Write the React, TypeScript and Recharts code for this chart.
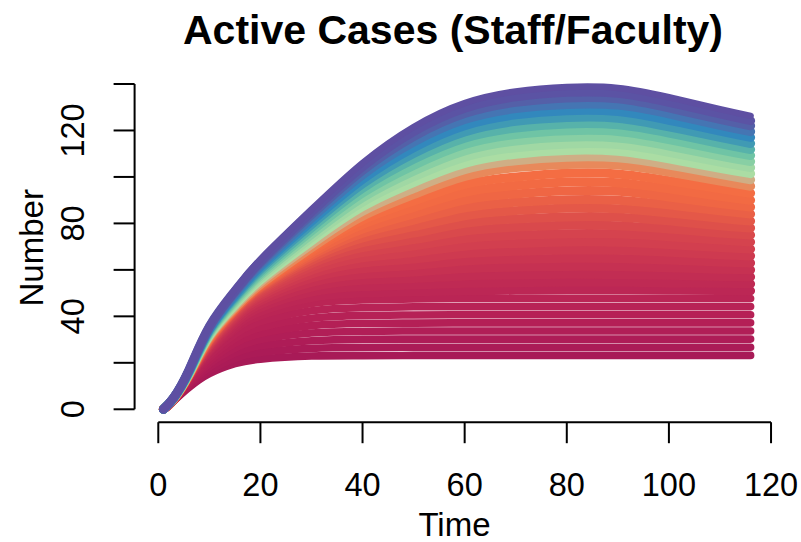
import React from 'react';
import { LineChart, Line, XAxis, YAxis, ReferenceLine } from 'recharts';

// ---------- data ----------
const times = [1, 3, 6, 10, 15, 20, 30, 40, 50, 60, 70, 80, 90, 100, 110, 116];

// lines that level off early (bottom of the fan)
const lowerSeries = [
  [0, 3.6, 9.3, 15.3, 19.6, 21.6, 22.9, 23.1, 23.2, 23.2, 23.2, 23.2, 23.2, 23.2, 23.2, 23.2],
  [0, 3.6, 10.0, 16.8, 21.9, 24.5, 26.2, 26.6, 26.7, 26.7, 26.7, 26.7, 26.7, 26.7, 26.7, 26.7],
  [0, 3.7, 10.6, 18.2, 24.2, 27.3, 29.5, 30.1, 30.2, 30.2, 30.2, 30.2, 30.2, 30.2, 30.2, 30.2],
  [0, 3.7, 11.2, 19.6, 26.3, 30.0, 32.8, 33.5, 33.7, 33.7, 33.7, 33.7, 33.7, 33.7, 33.7, 33.7],
  [0, 3.8, 11.8, 20.8, 28.4, 32.6, 36.0, 36.9, 37.1, 37.2, 37.2, 37.2, 37.2, 37.2, 37.2, 37.2],
  [0, 3.8, 12.3, 22.1, 30.4, 35.2, 39.2, 40.3, 40.6, 40.7, 40.7, 40.7, 40.7, 40.7, 40.7, 40.7],
  [0, 3.8, 12.8, 23.2, 32.3, 37.7, 42.4, 43.7, 44.1, 44.2, 44.2, 44.2, 44.2, 44.2, 44.2, 44.2],
  [0, 3.9, 13.3, 24.3, 34.2, 40.2, 45.5, 47.1, 47.5, 47.7, 47.7, 47.7, 47.7, 47.7, 47.7, 47.7],
];

// red / orange lines in the middle of the fan
const middleSeries = [
  [0, 3.9, 13.6, 25.1, 35.6, 42.2, 48.1, 50.0, 50.6, 51.0, 51.2, 51.3, 51.3, 51.2, 51.1, 51.0],
  [0, 4.0, 13.8, 25.7, 36.8, 43.8, 50.4, 52.8, 53.5, 54.2, 54.5, 54.7, 54.7, 54.4, 54.2, 54.0],
  [0, 4.0, 13.9, 26.4, 37.8, 45.2, 52.6, 55.5, 56.3, 57.4, 57.8, 58.1, 58.0, 57.7, 57.2, 57.0],
  [0, 4.0, 14.1, 27.0, 38.8, 46.6, 54.6, 58.0, 59.1, 60.6, 61.2, 61.5, 61.4, 60.9, 60.3, 60.0],
  [0, 4.1, 14.2, 27.5, 39.6, 47.7, 56.5, 60.5, 61.9, 63.8, 64.6, 65.0, 64.9, 64.2, 63.4, 63.0],
  [0, 4.1, 14.3, 28.0, 40.3, 48.8, 58.2, 62.9, 64.7, 67.0, 68.0, 68.5, 68.4, 67.6, 66.5, 66.0],
  [0, 4.2, 14.4, 28.3, 41.0, 49.7, 59.8, 65.2, 67.5, 70.2, 71.4, 72.0, 71.9, 70.9, 69.6, 69.0],
  [0, 4.2, 14.5, 28.8, 41.3, 50.4, 61.3, 67.4, 70.3, 73.5, 74.9, 75.6, 75.5, 74.3, 72.8, 72.0],
  [0, 4.2, 14.5, 29.1, 41.8, 51.1, 62.7, 69.6, 73.0, 76.7, 78.4, 79.2, 79.0, 77.6, 75.9, 75.0],
  [0, 4.3, 14.6, 29.4, 42.3, 51.8, 64.0, 71.7, 75.8, 80.0, 81.9, 82.8, 82.7, 81.1, 79.0, 78.0],
  [0, 4.3, 14.6, 29.6, 42.6, 52.3, 65.1, 73.8, 78.6, 83.3, 85.5, 86.5, 86.3, 84.5, 82.2, 81.0],
  [0, 4.4, 14.7, 29.9, 42.8, 52.7, 66.2, 75.8, 81.4, 86.7, 89.1, 90.2, 90.0, 88.0, 85.4, 84.0],
  [0, 4.4, 14.7, 30.2, 43.1, 53.1, 67.1, 77.6, 84.1, 90.0, 92.7, 94.0, 93.8, 91.4, 88.5, 87.0],
  [0, 4.4, 14.7, 30.4, 43.3, 53.4, 68.1, 79.6, 86.9, 93.4, 96.3, 97.8, 97.5, 94.9, 91.7, 90.0],
  [0, 4.5, 14.7, 30.6, 43.5, 53.6, 68.8, 81.4, 89.6, 96.8, 100.0, 101.6, 101.3, 98.4, 94.9, 93.0],
];

// green / blue / purple lines at the top of the fan
const upperSeries = [
  [0, 4.5, 14.8, 30.8, 43.5, 53.7, 69.5, 83.1, 92.4, 100.2, 104.0, 105.4, 105.1, 102.1, 98.2, 96.0],
  [0, 4.6, 15.0, 31.3, 44.2, 54.7, 71.0, 85.2, 95.0, 103.1, 107.0, 108.5, 108.2, 105.1, 101.1, 98.8],
  [0, 4.6, 15.2, 31.7, 44.9, 55.6, 72.4, 87.2, 97.6, 105.8, 109.8, 111.4, 111.0, 107.8, 103.7, 101.4],
  [0, 4.6, 15.4, 32.2, 45.6, 56.5, 73.9, 89.2, 100.0, 108.5, 112.6, 114.2, 113.9, 110.6, 106.4, 104.0],
  [0, 4.7, 15.5, 32.6, 46.3, 57.5, 75.3, 91.1, 102.5, 111.2, 115.5, 117.1, 116.7, 113.3, 109.0, 106.6],
  [0, 4.7, 15.7, 33.1, 47.0, 58.4, 76.7, 93.1, 105.0, 114.0, 118.3, 119.9, 119.6, 116.1, 111.7, 109.2],
  [0, 4.8, 15.9, 33.5, 47.7, 59.3, 78.1, 95.1, 107.6, 116.7, 121.1, 122.8, 122.4, 118.9, 114.4, 111.8],
  [0, 4.8, 16.1, 34.0, 48.3, 60.3, 79.5, 97.0, 110.1, 119.4, 123.9, 125.6, 125.3, 121.6, 117.0, 114.4],
  [0, 4.8, 16.3, 34.4, 49.0, 61.2, 80.9, 99.0, 112.6, 122.1, 126.7, 128.5, 128.1, 124.4, 119.7, 117.0],
  [0, 4.9, 16.5, 34.8, 49.7, 62.1, 82.3, 100.9, 115.0, 124.7, 129.4, 131.2, 130.9, 127.1, 122.2, 119.5],
  [0, 4.9, 16.7, 35.3, 50.4, 63.0, 83.7, 102.8, 117.4, 127.3, 132.1, 134.0, 133.6, 129.7, 124.8, 122.0],
  [0, 5.0, 16.9, 35.6, 50.9, 63.7, 84.9, 104.4, 119.5, 129.6, 134.5, 136.4, 136.0, 132.1, 127.1, 124.2],
  [0, 5.0, 17.0, 36.0, 51.5, 64.5, 86.0, 106.0, 121.5, 131.8, 136.8, 138.7, 138.3, 134.3, 129.2, 126.3],
];

const xTicks = [0, 20, 40, 60, 80, 100, 120];
const yTicks = [0, 20, 40, 60, 80, 100, 120, 140];
const yLabelTicks = [0, 40, 80, 120];
const chartTitle = 'Active Cases (Staff/Faculty)';
const xTitle = 'Time';
const yTitle = 'Number';

// ---------- styles ----------
const lineColors = [
  '#A81A57', '#AB1B57', '#AE1C57', '#B11E57', '#B41F56', '#B62156', '#B82356', '#BA2555',
  '#BC2755', '#BF2A54', '#C22D53', '#C63152', '#CA3551', '#CE3A50', '#D23F4F', '#D5434E',
  '#D9494C', '#DE504A', '#E45848', '#EA6046', '#EF6644', '#F26A43', '#F46D43',
  '#E8895B', '#CFAE85', '#ABDDA4', '#A0D8A4', '#88CFA4', '#6FC4A5', '#57B2AA', '#409AB4',
  '#3288BD', '#4575B3', '#5460A8', '#5B53A4', '#5E4FA2',
];

const FONT = '"Liberation Sans", Arial, Helvetica, sans-serif';
const W = 801;
const H = 542;
// plot area: left 134.6, right 774.3, top 73.4, bottom 422.2 (axis sizes of 1px included)
const MARGIN = { top: 73.4, right: 26.7, bottom: 118.8, left: 133.6 };
const X_DOMAIN: [number, number] = [-4.64, 120.64];
const Y_DOMAIN: [number, number] = [-5.56, 144.56];

const allSeries = [...lowerSeries, ...middleSeries, ...upperSeries];
const data = times.map((t, i) => {
  const row: Record<string, number> = { t };
  allSeries.forEach((s, k) => {
    row['s' + k] = s[i];
  });
  return row;
});

const XTick = (props: any) => {
  const { x, y, payload } = props;
  return (
    <text x={x} y={y + 50.3} textAnchor="middle" fontSize={32.5} fontFamily={FONT} fill="#000">
      {payload.value}
    </text>
  );
};

const YTick = (props: any) => {
  const { x, y, payload } = props;
  if (!yLabelTicks.includes(payload.value)) return <g />;
  const bx = x - 27.6;
  return (
    <text
      x={bx}
      y={y}
      transform={`rotate(-90, ${bx}, ${y})`}
      textAnchor="middle"
      fontSize={32.5}
      fontFamily={FONT}
      fill="#000"
    >
      {payload.value}
    </text>
  );
};

const strokeFor = (k: number) => {
  if (k === allSeries.length - 1) return 6.5;
  if (k < lowerSeries.length) return 7.6;
  return 9;
};

export default function App() {
  return (
    <div style={{ position: 'absolute', left: 0, top: 0, width: W, height: H, background: '#fff' }}>
      <LineChart width={W} height={H} data={data} margin={MARGIN}>
        <XAxis
          dataKey="t"
          type="number"
          domain={X_DOMAIN}
          allowDataOverflow
          ticks={xTicks}
          interval={0}
          height={1}
          axisLine={false}
          tickLine={{ stroke: '#000', strokeWidth: 2 }}
          tickSize={21}
          tick={<XTick />}
        />
        <YAxis
          type="number"
          domain={Y_DOMAIN}
          allowDataOverflow
          ticks={yTicks}
          interval={0}
          width={1}
          axisLine={false}
          tickLine={{ stroke: '#000', strokeWidth: 2 }}
          tickSize={21}
          tick={<YTick />}
        />
        {allSeries.map((_, k) => (
          <Line
            key={k}
            dataKey={'s' + k}
            type="natural"
            stroke={lineColors[k]}
            strokeWidth={strokeFor(k)}
            strokeLinecap="round"
            strokeLinejoin="round"
            dot={false}
            activeDot={false}
            isAnimationActive={false}
          />
        ))}
        <ReferenceLine
          segment={[{ x: xTicks[0], y: Y_DOMAIN[0] }, { x: xTicks[xTicks.length - 1], y: Y_DOMAIN[0] }]}
          stroke="#000"
          strokeWidth={2}
          ifOverflow="visible"
        />
        <ReferenceLine
          segment={[{ x: X_DOMAIN[0], y: yTicks[0] }, { x: X_DOMAIN[0], y: yTicks[yTicks.length - 1] }]}
          stroke="#000"
          strokeWidth={2}
          ifOverflow="visible"
        />
      </LineChart>
      <svg
        width={W}
        height={H}
        style={{ position: 'absolute', left: 0, top: 0, pointerEvents: 'none' }}
      >
        <text x={453} y={44} textAnchor="middle" fontSize={41} fontWeight="bold" fontFamily={FONT} fill="#000">
          {chartTitle}
        </text>
        <text x={454.5} y={536} textAnchor="middle" fontSize={33} fontFamily={FONT} fill="#000">
          {xTitle}
        </text>
        <text
          x={43.3}
          y={247.8}
          transform="rotate(-90, 43.3, 247.8)"
          textAnchor="middle"
          fontSize={33}
          fontFamily={FONT}
          fill="#000"
        >
          {yTitle}
        </text>
      </svg>
    </div>
  );
}
